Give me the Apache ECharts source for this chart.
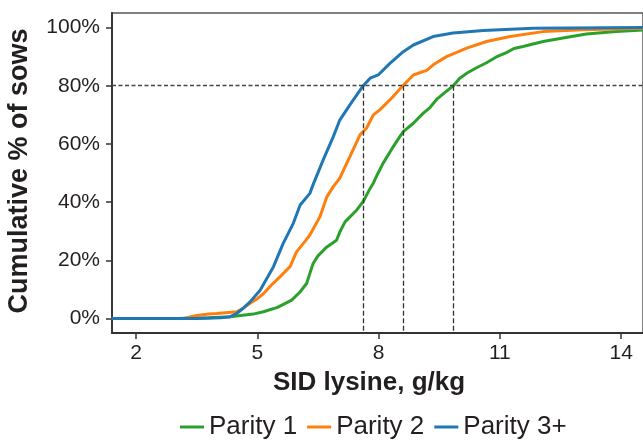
<!DOCTYPE html>
<html>
<head>
<meta charset="utf-8">
<script src="https://cdn.jsdelivr.net/npm/echarts@6/dist/echarts.min.js"></script>
<style>
  html, body { margin: 0; padding: 0; background: #fff; }
  #chart { width: 643px; height: 441px; }
</style>
</head>
<body>
<div id="chart"></div>
<script>
// Cumulative distribution of SID lysine intake, by parity group
const xTicks = [2, 5, 8, 11, 14];
const yTicks = [0, 20, 40, 60, 80, 100];
const seriesNames = ['Parity 1', 'Parity 2', 'Parity 3+'];

// [SID lysine g/kg, cumulative % of sows]
const parity1 = [
  [1.4, 0], [3.0, 0], [3.8, 0.2], [4.33, 0.6], [4.9, 1.5], [5.15, 2.3], [5.5, 3.8],
  [5.85, 6.3], [6.05, 9], [6.22, 12], [6.3, 15.5], [6.38, 18.9], [6.5, 21.5],
  [6.72, 24.6], [6.96, 26.9], [7.05, 30], [7.17, 33.2], [7.46, 37.3], [7.62, 40.2],
  [7.79, 44.7], [7.87, 46.5], [7.97, 49.5], [8.11, 53.3], [8.36, 59], [8.5, 62],
  [8.61, 64.2], [8.86, 67.1], [9.1, 70.5], [9.27, 72.5], [9.45, 75.5], [9.65, 77.8],
  [9.85, 80], [10.0, 82.5], [10.18, 84.3], [10.4, 86], [10.67, 87.9], [10.9, 89.8],
  [11.16, 91.4], [11.35, 92.8], [11.57, 93.5], [12.07, 95.2], [12.56, 96.4],
  [13.14, 97.8], [13.88, 98.6], [14.54, 99.2]
];
const parity2 = [
  [1.4, 0], [3.2, 0.1], [3.5, 1.0], [3.8, 1.5], [4.0, 1.7], [4.49, 2.3], [4.65, 3.5],
  [4.82, 5.2], [5.0, 6.8], [5.15, 8.5], [5.35, 11.5], [5.56, 14.3], [5.81, 17.8],
  [5.97, 22.9], [6.15, 26], [6.3, 28.7], [6.55, 35], [6.72, 41.8], [6.88, 45.3],
  [6.96, 46.8], [7.04, 48.2], [7.29, 55.6], [7.54, 63.1], [7.7, 65.4], [7.87, 70],
  [8.03, 71.7], [8.32, 75.7], [8.6, 80], [8.86, 83.7], [9.19, 85.3], [9.35, 87.2],
  [9.68, 90], [10.18, 92.9], [10.67, 95.2], [11.25, 96.9], [12.07, 98.6],
  [13.06, 99.2], [14.54, 99.8]
];
const parity3 = [
  [1.4, 0], [3.5, 0], [4.1, 0.2], [4.33, 0.6], [4.49, 1.7], [4.65, 3.5], [4.82, 5.7],
  [5.07, 9.7], [5.4, 17.8], [5.64, 25.8], [5.89, 32.7], [6.06, 39], [6.3, 43],
  [6.38, 46], [6.63, 54.5], [6.88, 62.5], [7.04, 68.2], [7.29, 73.4], [7.62, 80],
  [7.79, 82.6], [7.99, 83.7], [8.28, 87.7], [8.61, 91.7], [8.86, 94], [9.35, 96.9],
  [9.84, 98.1], [10.59, 99], [11.82, 99.8], [14.54, 100]
];

// Lysine level at which 80% of sows are covered (Parity 1, 2, 3+)
const target = 80;
const crossing80 = [9.85, 8.6, 7.62];

const colors = ['#2ca02c', '#ff7f0e', '#1f77b4'];
const FONT = '"Liberation Sans", Arial, Helvetica, sans-serif';
const TEXT = '#231f20';
const AXIS = '#333333';

const chart = echarts.init(document.getElementById('chart'), null, { renderer: 'canvas' });

const dash = { color: '#333', width: 1.3, type: [5, 2.5] };
const guideLines = [{ yAxis: target, lineStyle: { color: '#444', width: 1.4, type: [4, 2.5] } }]
  .concat(crossing80.map(x => [{ coord: [x, target] }, { coord: [x, -5] }]));

chart.setOption({
  animation: false,
  grid: {
    left: 112, top: 13, right: -3, bottom: 108,
    show: true, borderColor: '#555', borderWidth: 1.5, backgroundColor: 'transparent'
  },
  xAxis: {
    type: 'value', min: 1.406, max: 14.54,
    axisLine: { show: true, onZero: false, lineStyle: { color: AXIS, width: 1.8 } },
    axisTick: { show: true, length: 6, customValues: xTicks, lineStyle: { color: AXIS, width: 1.5 } },
    axisLabel: { customValues: xTicks, margin: 10, color: TEXT, fontSize: 21, fontFamily: FONT },
    splitLine: { show: false }
  },
  yAxis: {
    type: 'value', min: -5, max: 105,
    axisLine: { show: true, onZero: false, lineStyle: { color: AXIS, width: 1.8 } },
    axisTick: { show: true, length: 6, customValues: yTicks, lineStyle: { color: AXIS, width: 1.5 } },
    axisLabel: { customValues: yTicks, margin: 12, color: TEXT, fontSize: 21, fontFamily: FONT,
      formatter: v => v + '%' },
    splitLine: { show: false }
  },
  legend: {
    data: seriesNames,
    left: 175, top: 409,
    icon: 'rect', itemWidth: 24, itemHeight: 3, itemGap: 10,
    textStyle: { color: TEXT, fontSize: 26, fontFamily: FONT, padding: [0, 0, 0, 0] }
  },
  graphic: [
    { type: 'text', x: 369, y: 383,
      style: { text: 'SID lysine, g/kg', fill: TEXT, font: 'bold 26px ' + FONT,
        textAlign: 'center', textVerticalAlign: 'middle' } },
    { type: 'text', x: 20, y: 171, rotation: Math.PI / 2,
      style: { text: 'Cumulative % of sows', fill: TEXT, font: 'bold 27px ' + FONT,
        textAlign: 'center', textVerticalAlign: 'middle' } }
  ],
  series: [
    { name: 'guides', type: 'line', data: [], z: 1,
      markLine: { silent: true, symbol: ['none', 'none'], label: { show: false },
        lineStyle: dash, data: guideLines } },
    ...[parity1, parity2, parity3].map((d, i) => ({
      name: seriesNames[i], type: 'line', data: d, z: 2 + i,
      showSymbol: false, smooth: false,
      color: colors[i],
      lineStyle: { color: colors[i], width: 3 }
    }))
  ]
});
</script>
</body>
</html>
